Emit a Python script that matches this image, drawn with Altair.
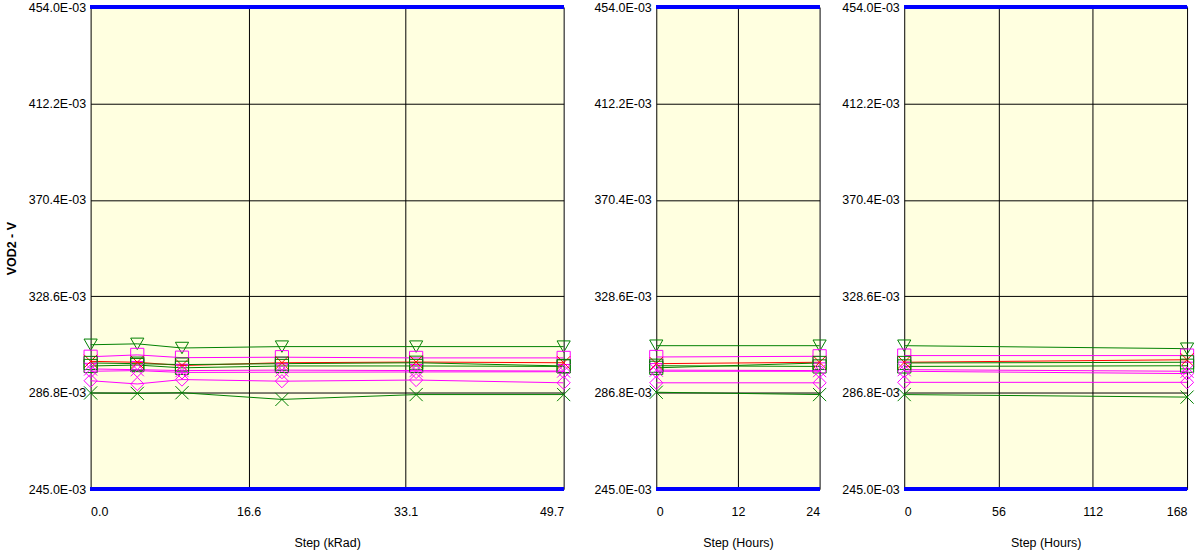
import altair as alt
import pandas as pd

# Sample readings of VOD2 (volts) for each device, per test phase.
series = ["S1", "S2", "S3", "S4", "S5", "S6", "S7", "S8", "S9"]
series_color = ["#008000", "#FF00FF", "#FF0000", "#008000", "#008000",
                "#FF00FF", "#FF00FF", "#FF00FF", "#008000"]
X_PATH = "M-1,-1L1,1M-1,1L1,-1"
series_shape = ["triangle-down", "square", X_PATH, "square", "square",
                X_PATH, "diamond", "diamond", X_PATH]

# Phase 1: total dose steps (kRad)
dose_steps = [0.0, 4.9, 9.6, 20.1, 34.2, 49.7]
dose_mv = [
    [307.6, 308.0, 306.2, 306.8, 306.8, 306.8],
    [302.4, 303.2, 302.0, 302.2, 301.9, 301.9],
    [300.4, 300.0, 298.6, 299.8, 300.1, 299.8],
    [299.7, 299.4, 299.0, 299.4, 299.8, 298.4],
    [298.4, 298.8, 297.6, 298.4, 298.4, 298.2],
    [297.1, 296.8, 296.4, 296.6, 296.4, 296.2],
    [296.1, 296.4, 295.6, 295.7, 295.8, 295.9],
    [292.0, 290.6, 292.5, 291.8, 292.3, 291.1],
    [286.7, 286.5, 286.8, 283.9, 286.0, 286.0],
]

# Phase 2: room-temperature anneal (hours)
anneal_steps = [0, 24]
anneal_mv = [
    [307.2, 307.2],
    [302.3, 302.6],
    [299.4, 300.0],
    [297.6, 299.7],
    [298.5, 298.2],
    [296.6, 296.4],
    [296.1, 296.1],
    [291.1, 291.1],
    [287.0, 286.0],
]

# Phase 3: high-temperature anneal (hours)
bake_steps = [0, 168]
bake_mv = [
    [307.2, 305.9],
    [302.9, 302.9],
    [300.0, 301.1],
    [299.7, 300.0],
    [298.2, 298.5],
    [296.8, 296.1],
    [296.1, 295.1],
    [291.3, 291.3],
    [286.0, 284.9],
]

y_ticks = [0.245, 0.2868, 0.3286, 0.3704, 0.4122, 0.454]
Y_MIN, Y_MAX = 0.245, 0.454
FONT = "Liberation Sans"
FS = 12.5


def frame(steps, table):
    rows = []
    for name, vals in zip(series, table):
        for s, v in zip(steps, vals):
            rows.append({"series": name, "step": s, "vod2": v / 1000.0})
    return pd.DataFrame(rows)


color_scale = alt.Scale(domain=series, range=series_color)
shape_scale = alt.Scale(domain=series, range=series_shape)


def panel(steps, table, x_max, x_ticks, x_title, x_fmt, width, show_ytitle):
    df = frame(steps, table)
    x = alt.X(
        "step:Q",
        scale=alt.Scale(domain=[0, x_max], nice=False, zero=False),
        axis=alt.Axis(values=x_ticks, format=x_fmt, title=x_title,
                      grid=True, gridColor="black", gridOpacity=1, gridWidth=1,
                      ticks=False, domain=False, labelPadding=16,
                      labelFontSize=FS, labelFont=FONT, labelColor="black",
                      titleFontSize=FS, titleFont=FONT, titleFontWeight="normal",
                      titleColor="black", titlePadding=19),
    )
    y = alt.Y(
        "vod2:Q",
        scale=alt.Scale(domain=[Y_MIN, Y_MAX], nice=False, zero=False),
        axis=alt.Axis(values=y_ticks,
                      labelExpr="format(datum.value * 1000, '.1f') + 'E-03'",
                      title="VOD2 - V" if show_ytitle else None,
                      grid=True, gridColor="black", gridOpacity=1, gridWidth=1,
                      ticks=False, domain=False, labelPadding=5,
                      labelFontSize=FS, labelFont=FONT, labelColor="black",
                      titleFontSize=FS, titleFont=FONT, titleFontWeight="bold",
                      titleColor="black", titlePadding=10),
    )
    base = alt.Chart(df)
    lines = base.mark_line(strokeWidth=1).encode(
        x=x, y=y,
        color=alt.Color("series:N", scale=color_scale, legend=None),
        detail="series:N",
    )
    points = base.mark_point(filled=False, strokeWidth=1, size=175, opacity=1).encode(
        x="step:Q", y="vod2:Q",
        color=alt.Color("series:N", scale=color_scale, legend=None),
        shape=alt.Shape("series:N", scale=shape_scale, legend=None),
    )
    top = alt.Chart(df).mark_rule(color="#0000FF", strokeWidth=3).encode(
        y=alt.datum(Y_MAX))
    bottom = alt.Chart(df).mark_rule(color="#0000FF", strokeWidth=3).encode(
        y=alt.datum(Y_MIN))
    return alt.layer(lines, points, top, bottom).properties(width=width, height=484)


p1 = panel(dose_steps, dose_mv, 49.7, [0, 16.6, 33.1, 49.7], "Step (kRad)", ".1f", 475, True)
p2 = panel(anneal_steps, anneal_mv, 24, [0, 12, 24], "Step (Hours)", "d", 164, False)
p3 = panel(bake_steps, bake_mv, 168, [0, 56, 112, 168], "Step (Hours)", "d", 284, False)

chart = alt.hconcat(
    alt.hconcat(p1, p2, spacing=21), p3, spacing=13
).properties(
    padding={"left": 5, "top": 0, "right": 5, "bottom": 5},
    background="white",
).configure_view(
    fill="#FFFFE0", strokeWidth=0
)

chart.save("out.html", embed_options={"renderer": "svg", "actions": False})
